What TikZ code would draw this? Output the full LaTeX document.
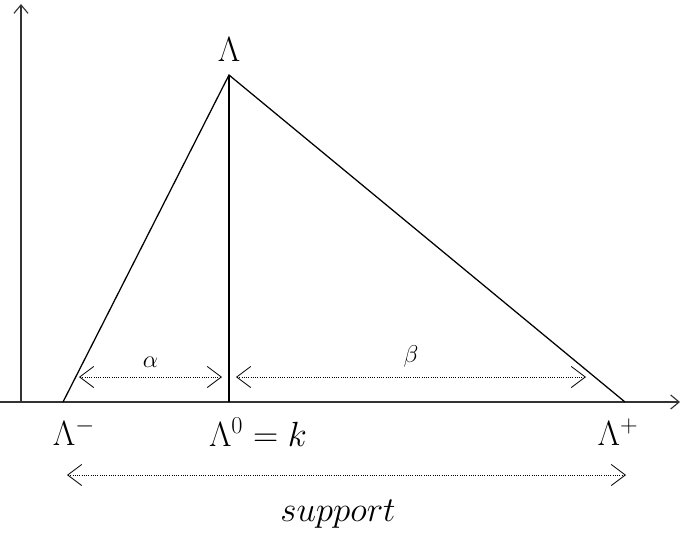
\documentclass[tikz,border=0pt]{standalone}
\usetikzlibrary{arrows.meta}

\begin{document}
\begin{tikzpicture}[
  x=0.025cm, y=-0.025cm,
  font=\fontsize{27}{32}\selectfont,
  axis/.style={-{Straight Barb[length=6pt,width=10pt]},line width=0.8pt,black!80},
  edge/.style={line width=0.9pt},
  span/.style={{Straight Barb[length=10pt,width=15pt]}-{Straight Barb[length=10pt,width=15pt]},
    densely dotted,line width=0.6pt},
  lbl/.style={inner sep=0pt}
]
  \useasboundingbox (0,0) rectangle (680,533);

  % axes
  \coordinate (O) at (21,402);
  \coordinate (xend) at (680,402);
  \coordinate (xstart) at (0,402);
  \coordinate (yend) at (21,4);
  \draw[axis] (xstart) -- (xend);
  \draw[axis] (O) -- (yend);

  % triangle
  \coordinate (Lm) at (63,402);
  \coordinate (L0) at (229,402);
  \coordinate (Lp) at (625,402);
  \coordinate (top) at (229,75);
  \draw[edge] (Lm) -- (top) -- (Lp);
  \draw[edge] (top) -- (L0);

  \node[lbl] (peak) at (229,50) {$\Lambda$};
  \node[lbl] (lminus) at (74,432) {$\Lambda^{-}$};
  \node[lbl] (lzero) at (258,432) {$\Lambda^{0} = k$};
  \node[lbl] (lplus) at (618,432) {$\Lambda^{+}$};

  % spans
  \coordinate (a1) at (79,377);
  \coordinate (a2) at (222,377);
  \coordinate (b1) at (236,377);
  \coordinate (b2) at (586,377);
  \coordinate (s1) at (67,475);
  \coordinate (s2) at (626,475);
  \draw[span] (a1) -- (a2) node[midway,above=3pt,font=\fontsize{16}{18}\selectfont] {$\alpha$};
  \draw[span] (b1) -- (b2) node[midway,above=3pt,font=\fontsize{16}{18}\selectfont] {$\beta$};
  \draw[span] (s1) -- (s2);
  \node[lbl] (supp) at (338,514) {$support$};
\end{tikzpicture}
\end{document}
